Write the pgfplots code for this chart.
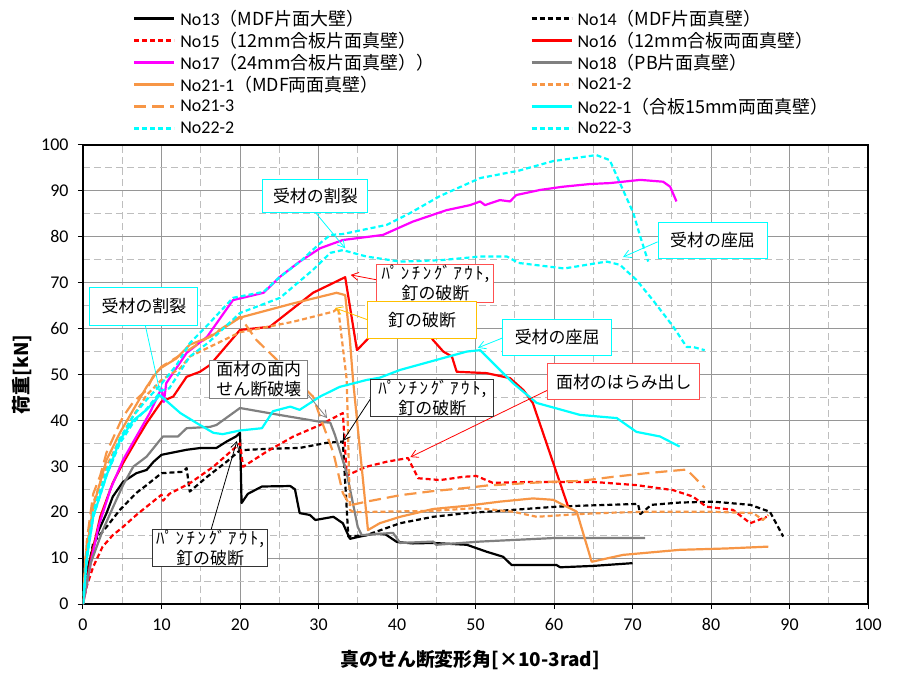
\documentclass[border=0pt]{standalone}
\usepackage{fontspec}
\setmainfont{Carlito}
\newfontfamily\jp{Noto Sans CJK JP}
\usepackage{pgfplots}
\pgfplotsset{compat=1.18}
\usetikzlibrary{arrows.meta}
\definecolor{cOr}{RGB}{247,150,70}
\definecolor{cCy}{RGB}{0,255,255}
\definecolor{cMg}{RGB}{255,0,255}
\definecolor{cGr}{RGB}{128,128,128}
\definecolor{cRd}{RGB}{255,0,0}
\definecolor{cGold}{RGB}{255,192,0}
\definecolor{cBoxR}{RGB}{255,80,80}
\newcommand\pko{ﾊﾟ\kern2.5bp ﾝ\kern2.5bp ﾁ\kern2.5bp ﾝ\kern2.5bp ｸﾞ\kern2.5bp ｱ\kern2.5bp ｳ\kern2.5bp ﾄ\kern1bp ,}
\begin{document}
\begin{tikzpicture}
\path[use as bounding box] (-83bp,-69bp) rectangle (817bp,604bp);
\begin{axis}[
  at={(0,0)}, anchor=south west,
  scale only axis, width=785bp, height=459bp,
  xmin=0,xmax=100,ymin=0,ymax=100,
  xtick={0,10,...,100}, ytick={0,10,...,100},
  minor x tick num=1, minor y tick num=1,
  grid=both,
  major grid style={draw={rgb,255:red,150;green,150;blue,150}, line width=1bp},
  minor grid style={draw={rgb,255:red,190;green,190;blue,190}, line width=1bp, dash pattern=on 7bp off 4bp},
  axis line style={line width=2bp, black},
  tick align=outside, xtick pos=left, ytick pos=left,
  major tick length=5bp, minor tick length=0pt,
  tick style={black, line width=1bp},
  ticklabel style={font=\fontsize{18}{20}\selectfont},
  yticklabel style={xshift=-6bp},
  xticklabel style={yshift=-6bp},
  /pgf/number format/assume math mode=true,
  xlabel={\jp\bfseries 真のせん断変形角[×10-3rad]},
  ylabel={\jp\bfseries 荷重[kN]},
  xlabel style={font=\fontsize{19}{22}\selectfont, at={(axis description cs:0.493,-0.122)}, anchor=center},
  ylabel style={font=\fontsize{19}{22}\selectfont, at={(axis description cs:-0.078,0.5)}, anchor=center},
  legend columns=2,
  legend cell align=left,
  legend style={at={(axis description cs:0.0637,1.30)}, anchor=north west, draw=none, fill=none,
    font=\fontsize{18}{20}\selectfont, inner sep=0pt, row sep=0pt,
    nodes={inner sep=0pt, minimum height=22bp},
    /tikz/every odd column/.append style={column sep=5bp}},
  legend image code/.code={\draw[#1] (0bp,0bp) -- (40bp,0bp);},
  every axis plot/.append style={line width=2.2bp, line join=round},
]
% No13
\addplot[black] coordinates {(0,0) (0.5,7) (1.3,12.5) (2,16) (3,19.8) (3.8,23.4) (5.1,26.6) (6.8,28.5) (8.1,29.2) (9,31) (10,32.5) (13.2,33.6) (15,34) (17,34) (18.3,35.4) (19.5,36.5) (20,37.3) (20.2,22) (21,24) (22.8,25.6) (26.4,25.7) (27,25) (27.6,19.8) (28.9,19.4) (29.6,18.3) (31.9,19) (33.1,17.6) (34,14.2) (35.3,14.7) (37,15.3) (38.5,15.2) (40,13.5) (42,13.2) (44.6,13.3) (48.9,12.9) (51.4,11.4) (53.5,10.3) (54.6,8.5) (57,8.5) (60.3,8.5) (60.8,8) (65,8.3) (70,8.9)};
\addlegendentry{\makebox[350bp][l]{No13{\jp （MDF片面大壁）}}}
% No14
\addplot[black, dash pattern=on 5bp off 3bp] coordinates {(0,0) (0.5,6) (1.3,13.3) (3,16.8) (4.7,20.5) (6.8,24.2) (8.1,25.9) (10,28.5) (12.7,28.8) (13.2,29.6) (13.6,24.5) (15.8,27.7) (18.3,31) (20,33.5) (23.4,33.8) (27.6,34) (31,35.1) (33.1,35.4) (33.8,14.7) (36.1,15) (40.4,17.6) (44.6,19) (48.9,19.8) (53.1,20.3) (60.3,21.2) (63.3,21.4) (70.7,21.8) (71,19.6) (72.4,21.6) (76,22.1) (80.3,22.3) (85,21.6) (87.5,20.1) (89.2,14.7)};
\addlegendentry{No14{\jp （MDF片面真壁）}}
% No15
\addplot[cRd, dash pattern=on 5bp off 3bp] coordinates {(0,0) (0.5,4) (1.3,8.1) (2.5,12.5) (3.8,15) (5.1,16.8) (6.8,19.4) (8.1,21.2) (10,23.8) (10.2,22.5) (11,24) (13.6,26.3) (16.6,29.9) (20,35) (20.4,29.9) (23.4,33.2) (26.8,36.5) (30.2,39) (33.1,41.6) (33.6,28) (36.1,29.9) (38.7,31) (41.4,31.8) (42.7,27.4) (45.5,27) (48.4,27.7) (50.1,27.9) (52.2,26.4) (57.3,26.6) (65,26.6) (70.5,25.9) (75.2,24.8) (77.7,23.4) (79.4,21.2) (82.8,20.5) (85,17.6) (87.1,19)};
\addlegendentry{\makebox[350bp][l]{No15{\jp （12mm合板片面真壁）}}}
% No16
\addplot[cRd] coordinates {(0,0) (1,10) (2.2,19) (3.8,26.4) (5.1,30.7) (6.8,35.7) (8.1,39.4) (10,44.1) (11.5,45.2) (13.2,49.5) (14.9,50.6) (16.2,52.1) (20,59.7) (23.8,60.4) (29.3,67.8) (33.4,71.2) (34.9,55.3) (36.3,57.8) (37,59) (44,59) (44.6,57.5) (45.9,55) (47,53.9) (47.6,50.6) (51.4,50.3) (54.4,49.2) (56.1,46.6) (57.3,43.8) (61.8,21.2)};
\addlegendentry{No16{\jp （12mm合板両面真壁）}}
% No17
\addplot[cMg] coordinates {(0,0) (1,9) (2,17) (3.5,25) (5.1,31.4) (6.8,36.5) (8.5,41.6) (10,47) (10.3,44) (10.6,48.1) (13.2,54.7) (15.8,58.2) (19.1,66.2) (23,67.8) (25.1,71.3) (27.6,74.6) (30.2,77.5) (33.1,79.3) (38.2,80.4) (42,83.3) (46.3,85.8) (49.3,86.9) (50.6,87.7) (51.2,86.9) (53.1,88) (54.4,87.7) (55.2,89.1) (58.2,90.2) (61.1,90.9) (64.6,91.5) (67.1,91.7) (71,92.4) (73.9,92) (74.8,90.9) (75.6,87.7)};
\addlegendentry{\makebox[350bp][l]{No17{\jp （24mm合板片面真壁））}}}
% No18
\addplot[cGr] coordinates {(0,0) (1,9) (2.5,16) (3.8,21) (5.1,25.9) (6.4,29.9) (8.1,32.1) (9.8,35.7) (10.2,36.5) (12.1,36.5) (13.2,38.3) (16.2,38.6) (17,39) (20,42.7) (25,41.2) (30.2,39.7) (31.5,39.5) (32.1,36.8) (33.6,28.5) (35,16.8) (35.5,15) (39.5,15.5) (40.4,13.3) (44.6,13.6) (45,12.9) (50.6,13.6) (60.3,14.4) (71.6,14.4)};
\addlegendentry{No18{\jp （PB片面真壁）}}
% No21-1
\addplot[cOr] coordinates {(0,0) (0.3,10) (1.3,21.2) (3,31.4) (4.7,37.3) (6.4,42.3) (8.1,47.3) (9.4,50.5) (10,51.5) (11.9,53.5) (13.6,56.5) (16.2,58.2) (20,62.4) (26.8,65.5) (32.3,67.8) (33.4,67.3) (34,57.5) (34.4,48.8) (36.3,16.1) (37.8,17.6) (40.4,19) (44.6,20.7) (48.9,21.4) (53.1,22.3) (57.3,23) (59.9,22.7) (62.9,20.1) (64.8,9.2) (68.8,10.7) (76,11.8) (82,12.1) (87.3,12.5)};
\addlegendentry{\makebox[350bp][l]{No21-1{\jp （MDF両面真壁）}}}
% No21-2
\addplot[cOr, dash pattern=on 5bp off 3bp] coordinates {(0,0) (0.5,12) (1.3,22) (3,30) (4.7,36) (6.4,41) (8.1,45.5) (10,48.8) (12.4,51.4) (13.6,53.9) (20,59.2) (26.8,61.5) (31.9,63.7) (32.5,64.5) (33.6,48.8) (34,20.5) (34.5,20) (44.6,20.3) (50.1,20.9) (54.8,20.1) (57.8,19) (63.3,19.6) (67.5,19.9) (71.8,20.1) (80.3,20.1) (85.4,19.8) (86.6,18.3) (87.3,19.4)};
\addlegendentry{No21-2}
% No21-3
\addplot[cOr, dash pattern=on 12bp off 6bp] coordinates {(0,0) (0.5,14) (1.3,24) (2.2,28) (3,33) (4.7,39.4) (5.1,40.8) (6.4,44) (8.1,46.6) (8.9,49.5) (10,51.7) (13.6,55.5) (20,62.6) (22.1,57.5) (24.7,53.2) (27,49) (29.3,45.2) (30.2,40.8) (31.9,32.9) (33.1,24.2) (34,21.5) (36.1,22.3) (40.4,23.7) (44.6,24.6) (48.9,25.3) (51.4,25.8) (59.1,26.6) (63.3,26.8) (67.5,27.7) (71.8,28.5) (76.9,29.3) (78,27.4) (79.2,25.3)};
\addlegendentry{\makebox[350bp][l]{No21-3}}
% No22-1
\addplot[cCy] coordinates {(0,0) (0.5,10) (1.3,19) (3,28) (4.7,35.7) (6.4,40) (8.1,42.3) (9.8,45.5) (12.4,41.6) (14.5,39.4) (16.6,37.3) (17.8,37) (20,37.8) (22.8,38.3) (24.2,42) (26.4,43) (27.6,42.3) (30.2,45.2) (32.7,47.3) (36.1,48.8) (37.8,49.3) (40.4,51) (45.5,53.4) (48.9,55) (50.6,55.3) (54.8,48.1) (57.8,43.8) (63.3,41.2) (68,40.5) (70.5,37.5) (73.5,36.5) (76,34.3)};
\addlegendentry{No22-1{\jp （合板15mm両面真壁）}}
% No22-2
\addplot[cCy, dash pattern=on 5bp off 3bp] coordinates {(0,0) (0.5,11) (1.3,20) (3,29) (4.7,36) (6.4,41) (8.1,44.5) (10,48) (11.9,52) (13.6,56.8) (16,61) (19.1,66.7) (23,68) (25.1,71.3) (27.6,74.5) (30.2,78.6) (31.5,80.4) (33.1,80.6) (38.7,82.6) (41.7,85.2) (45.5,88.9) (50.6,92.8) (55.5,94.4) (59.9,96.5) (65.4,97.8) (67.1,96.7) (68.4,91.7) (70.1,85.2) (71,80) (72,74.6)};
\addlegendentry{\makebox[350bp][l]{No22-2}}
% No22-3
\addplot[cCy, dash pattern=on 5bp off 3bp] coordinates {(0,0) (0.5,10) (1.3,19) (3,28) (4.7,35) (6.4,39.5) (8.1,42.5) (10,46.5) (11,47) (13.6,53.9) (16,57) (20,63.4) (25.1,66.7) (29.3,72.8) (31.5,76.5) (33.1,77.1) (36.1,75.7) (40.4,74.6) (45.5,74.9) (50.6,75.7) (54,75.7) (55.5,74.3) (61.3,73.1) (66.7,74.6) (68.4,73.9) (70.5,70.6) (72.6,66.2) (75.2,60.4) (76.9,56) (77.7,56) (79.2,55.3)};
\addlegendentry{No22-3}

% annotation arrows
\draw[cCy, line width=0.8bp, -{Straight Barb[length=7bp,width=8bp]}] (axis cs:29.5,85.5) -- (axis cs:33.4,77.5);
\draw[cCy, line width=0.8bp, -{Straight Barb[length=7bp,width=8bp]}] (axis cs:73.2,78.9) -- (axis cs:68.8,75.6);
\draw[cCy, line width=0.8bp, -{Straight Barb[length=7bp,width=8bp]}] (axis cs:7.9,61) -- (axis cs:9.8,46.2);
\draw[cCy, line width=0.8bp, -{Straight Barb[length=7bp,width=8bp]}] (axis cs:53.5,58) -- (axis cs:50.3,55.8);
\draw[cRd, line width=0.8bp, -{Straight Barb[length=7bp,width=8bp]}] (axis cs:37.5,70.6) -- (axis cs:34.1,71.7);
\draw[cGold, line width=0.8bp, -{Straight Barb[length=7bp,width=8bp]}] (axis cs:36.3,61.9) -- (axis cs:32.1,64.5);
\draw[cGr, line width=0.8bp, -{Straight Barb[length=7bp,width=8bp]}] (axis cs:27.5,48) -- (axis cs:31.1,40.5);
\draw[black, line width=0.8bp, -{Straight Barb[length=7bp,width=8bp]}] (axis cs:36.7,44.9) -- (axis cs:33.1,35.5);
\draw[black, line width=0.8bp, -{Straight Barb[length=7bp,width=8bp]}] (axis cs:16.3,16.1) -- (axis cs:19.6,35.5);
\draw[cRd, line width=0.8bp, -{Straight Barb[length=7bp,width=8bp]}] (axis cs:59.2,46.6) -- (axis cs:41.7,32);

% annotation boxes
\tikzset{ann/.style={fill=white, line width=1bp, inner sep=0pt, align=center, font=\jp\fontsize{17}{20}\selectfont}}
\node[ann, draw=cCy, minimum width=105bp, minimum height=33bp] at (axis cs:29.6,88.8) {受材の割裂};
\node[ann, draw=cCy, minimum width=109bp, minimum height=36bp] at (axis cs:80.2,79.3) {受材の座屈};
\node[ann, draw=cCy, minimum width=108bp, minimum height=38bp] at (axis cs:7.77,64.9) {受材の割裂};
\node[ann, draw=cCy, minimum width=109bp, minimum height=36bp] at (axis cs:60.4,58.1) {受材の座屈};
\node[ann, draw=cBoxR, minimum width=117bp, minimum height=38bp] at (axis cs:44.9,69.9) {\pko\\釘の破断};
\node[ann, draw=cGold, minimum width=109bp, minimum height=37bp] at (axis cs:43.2,61.8) {釘の破断};
\node[ann, draw=cGr, minimum width=98bp, minimum height=38bp] at (axis cs:22.4,49) {面材の面内\\せん断破壊};
\node[ann, draw=black!80, minimum width=123bp, minimum height=37bp] at (axis cs:44.5,44.8) {\pko\\釘の破断};
\node[ann, draw=black!80, minimum width=115bp, minimum height=37bp] at (axis cs:16.2,12.1) {\pko\\釘の破断};
\node[ann, draw=cBoxR, minimum width=152bp, minimum height=36bp] at (axis cs:68.9,48.4) {面材のはらみ出し};
\end{axis}
\end{tikzpicture}
\end{document}
